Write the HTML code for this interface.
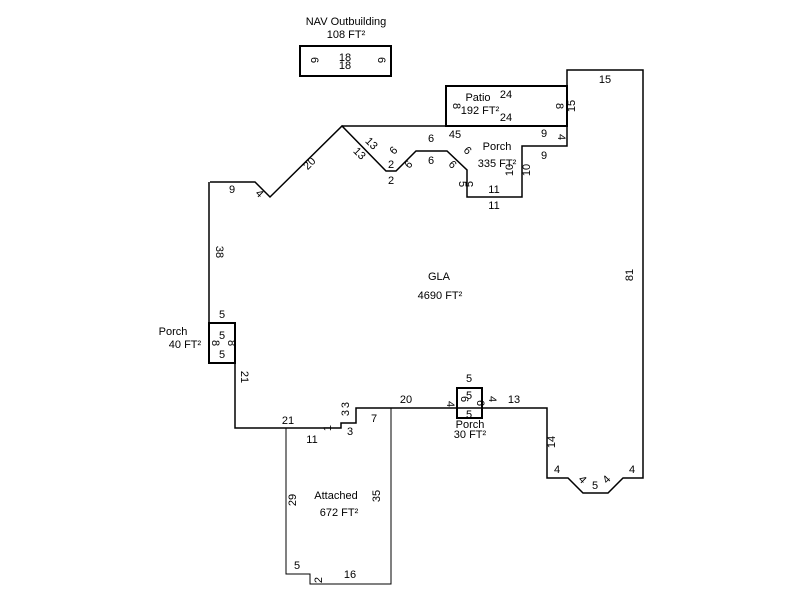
<!DOCTYPE html>
<html><head><style>body{margin:0;background:#fff}svg{display:block}text{font-family:"Liberation Sans",Arial,sans-serif;font-size:11px;fill:#000}</style></head><body>
<svg width="800" height="600" viewBox="0 0 800 600">
<g fill="none" stroke="#000" stroke-width="1.5">
<polyline points="210,182 255,182 270,197 342,126 386,171 396,171 416,151 447,151 467,170 467,197 522,197 522,146 567,146 567,70 643,70 643,478 623,478 608,493 583,493 568,478 547,478 547,408 391,408 356,408 356,423 341,423 341,428 235,428 235,363 209,363 209,182"/>
<line x1="342" y1="126" x2="567" y2="126"/>
<polyline stroke-width="1" points="286,428 286,574 310,574 310,584 391,584 391,408"/>
</g>
<g fill="none" stroke="#000" stroke-width="2">
<rect x="300" y="46" width="91" height="30"/>
<rect x="446" y="86" width="121" height="40"/>
<rect x="209" y="323" width="26" height="40"/>
<rect x="457" y="388" width="25" height="30"/>
</g>
<g text-anchor="middle">
<text x="346" y="25">NAV Outbuilding</text><text x="346" y="38">108 FT²</text>
<text x="345" y="61">18</text><text x="345" y="69">18</text>
<text x="311" y="60" transform="rotate(90 311 60)">6</text><text x="378" y="60" transform="rotate(90 378 60)">6</text>
<text x="478" y="101">Patio</text><text x="480" y="114">192 FT²</text>
<text x="506" y="98">24</text><text x="506" y="121">24</text>
<text x="453" y="106" transform="rotate(90 453 106)">8</text><text x="556" y="106" transform="rotate(90 556 106)">8</text>
<text x="575" y="106" transform="rotate(-90 575 106)">15</text>
<text x="605" y="83">15</text>
<text x="633" y="275" transform="rotate(-90 633 275)">81</text>
<text x="497" y="150">Porch</text><text x="497" y="167">335 FT²</text>
<text x="455" y="138">45</text><text x="431" y="142">6</text><text x="431" y="164">6</text>
<text x="544" y="137">9</text><text x="558" y="137" transform="rotate(90 558 137)">4</text>
<text x="544" y="159">9</text>
<text x="530" y="170" transform="rotate(-90 530 170)">10</text>
<text x="513" y="170" transform="rotate(-90 513 170)">10</text>
<text x="494" y="193">11</text><text x="494" y="209">11</text>
<text x="459" y="184" transform="rotate(90 459 184)">5</text><text x="473" y="184" transform="rotate(-90 473 184)">5</text>
<text x="465" y="153" transform="rotate(45 465 153)">6</text><text x="450" y="167" transform="rotate(45 450 167)">6</text>
<text x="396" y="153" transform="rotate(-45 396 153)">6</text><text x="411" y="167" transform="rotate(-45 411 167)">6</text>
<text x="391" y="168">2</text><text x="391" y="184">2</text>
<text x="369" y="146" transform="rotate(45 369 146)">13</text><text x="357" y="156" transform="rotate(45 357 156)">13</text>
<text x="312" y="166" transform="rotate(-45 312 166)">20</text>
<text x="232" y="193">9</text><text x="257" y="196" transform="rotate(45 257 196)">4</text>
<text x="216" y="252" transform="rotate(90 216 252)">38</text>
<text x="439" y="280">GLA</text><text x="440" y="299">4690 FT²</text>
<text x="173" y="335">Porch</text><text x="185" y="348">40 FT²</text>
<text x="222" y="318">5</text><text x="222" y="339">5</text><text x="222" y="358">5</text>
<text x="212" y="343" transform="rotate(90 212 343)">8</text><text x="228" y="343" transform="rotate(90 228 343)">8</text>
<text x="241" y="377" transform="rotate(90 241 377)">21</text>
<text x="288" y="424">21</text><text x="312" y="443">11</text>
<text x="331" y="428" transform="rotate(-90 331 428)">1</text>
<text x="349" y="413" transform="rotate(-90 349 413)">3</text><text x="349" y="405" transform="rotate(-90 349 405)">3</text>
<text x="350" y="435">3</text><text x="374" y="422">7</text>
<text x="406" y="403">20</text>
<text x="447" y="404" transform="rotate(90 447 404)">4</text>
<text x="469" y="382">5</text><text x="469" y="399">5</text><text x="469" y="418">5</text>
<text x="461" y="399" transform="rotate(90 461 399)">6</text><text x="477" y="403" transform="rotate(90 477 403)">6</text>
<text x="489" y="399" transform="rotate(90 489 399)">4</text>
<text x="470" y="428">Porch</text><text x="470" y="438">30 FT²</text>
<text x="514" y="403">13</text>
<text x="555" y="442" transform="rotate(-90 555 442)">14</text>
<text x="557" y="473">4</text><text x="632" y="473">4</text>
<text x="580" y="482" transform="rotate(45 580 482)">4</text><text x="595" y="489">5</text><text x="609" y="482" transform="rotate(-45 609 482)">4</text>
<text x="336" y="499">Attached</text><text x="339" y="516">672 FT²</text>
<text x="296" y="500" transform="rotate(-90 296 500)">29</text>
<text x="380" y="496" transform="rotate(-90 380 496)">35</text>
<text x="297" y="569">5</text><text x="322" y="580" transform="rotate(-90 322 580)">2</text>
<text x="350" y="578">16</text>
</g>
</svg>
</body></html>
